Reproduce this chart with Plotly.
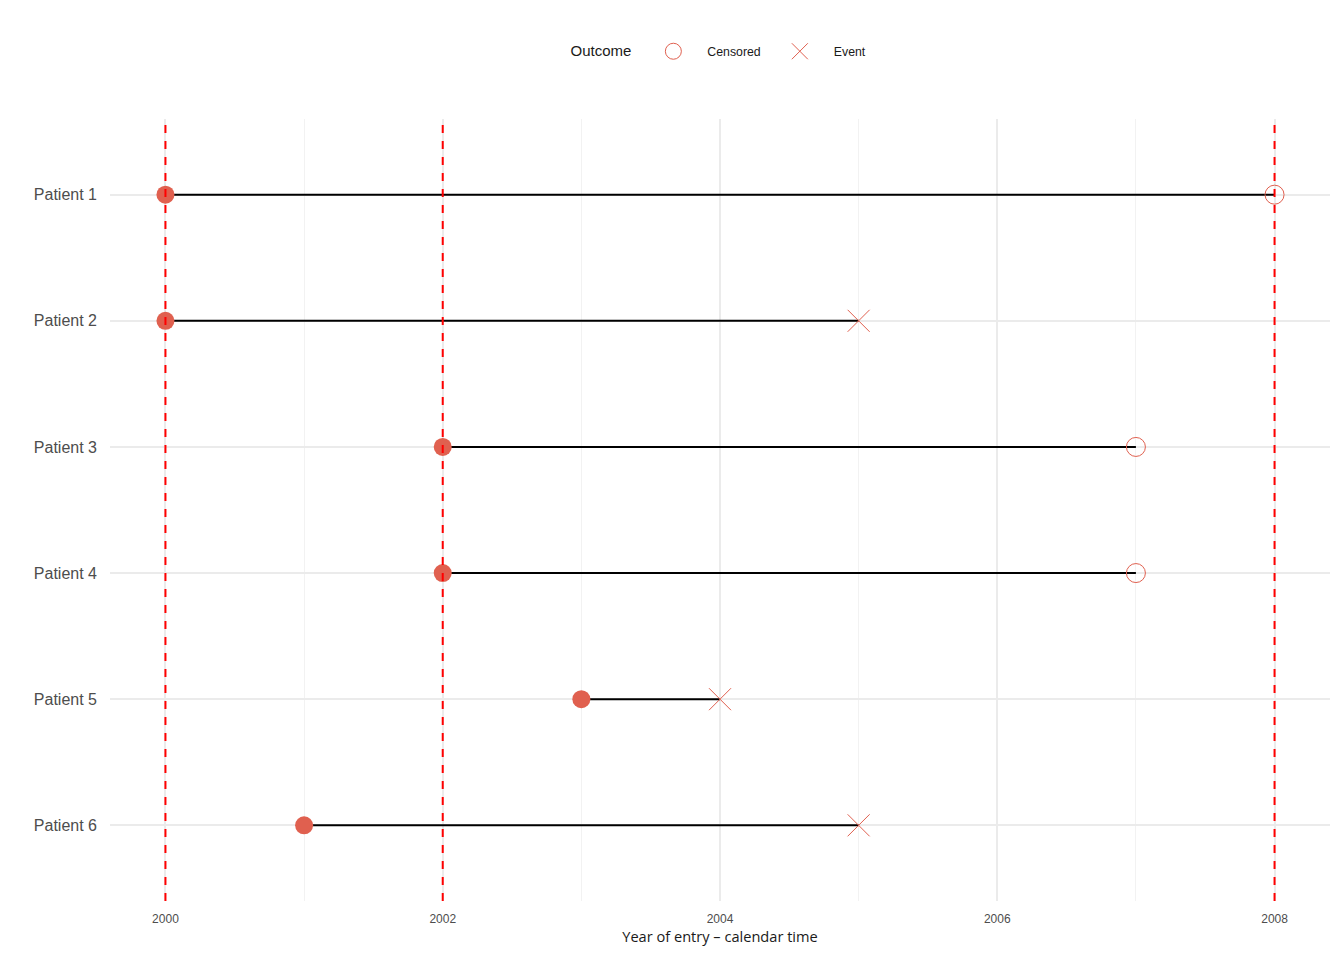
import plotly.graph_objects as go

patients = ["Patient 1", "Patient 2", "Patient 3", "Patient 4", "Patient 5", "Patient 6"]
entry_year = [2000, 2000, 2002, 2002, 2003, 2001]
exit_year = [2008, 2005, 2007, 2007, 2004, 2005]
outcome = ["Censored", "Event", "Censored", "Censored", "Event", "Event"]
cutoff_years = [2000, 2002, 2008]
x_ticks = [2000, 2002, 2004, 2006, 2008]

PT_COLOR = "#E0604F"

fig = go.Figure()

# dashed vertical reference lines
for yr in cutoff_years:
    fig.add_trace(go.Scatter(
        x=[yr, yr], y=[0, 1], xaxis="x", yaxis="y2", mode="lines",
        line=dict(color="#FF0000", width=2, dash="8px,8px"),
        showlegend=False, hoverinfo="skip"))

# follow-up segments
seg_x, seg_y = [], []
for p, s, e in zip(patients, entry_year, exit_year):
    seg_x += [s, e, None]
    seg_y += [p, p, None]
fig.add_trace(go.Scatter(x=seg_x, y=seg_y, mode="lines",
                         line=dict(color="black", width=2),
                         showlegend=False, hoverinfo="skip"))

# entry points
fig.add_trace(go.Scatter(x=entry_year, y=patients, mode="markers",
                         marker=dict(color=PT_COLOR, size=18, symbol="circle",
                                     line=dict(width=0)),
                         showlegend=False))

# outcome markers
for oc, sym, sz in [("Censored", "circle-open", 19), ("Event", "x-thin-open", 22)]:
    xs = [e for e, o in zip(exit_year, outcome) if o == oc]
    ys = [p for p, o in zip(patients, outcome) if o == oc]
    fig.add_trace(go.Scatter(x=xs, y=ys, mode="markers", name=oc,
                             marker=dict(symbol=sym, size=sz, color=PT_COLOR,
                                         line=dict(color=PT_COLOR, width=1))))

fig.update_layout(
    width=1336, height=952,
    margin=dict(l=102, r=14, t=111, b=59),
    plot_bgcolor="white", paper_bgcolor="white",
    font=dict(family="Liberation Sans, Arial, sans-serif", color="#1a1a1a"),
    legend=dict(orientation="h", x=0.5, xanchor="center", y=1.086, yanchor="middle",
                title=dict(text="Outcome", font=dict(size=15, color="#1a1a1a")),
                font=dict(size=12.3, color="#1a1a1a"),
                itemwidth=58),
    xaxis=dict(range=[1999.6, 2008.4], tickvals=x_ticks, ticktext=[str(t) for t in x_ticks],
               showgrid=True, gridcolor="#EBEBEB", gridwidth=1.5,
               minor=dict(dtick=1, tick0=2001, showgrid=True, gridcolor="#F2F2F2", gridwidth=1),
               zeroline=False, showline=False, ticks="", ticklabelstandoff=9,
               tickfont=dict(size=12, color="#4d4d4d"),
               title=dict(text="Year of entry – calendar time", standoff=5,
                          font=dict(family="Open Sans, sans-serif", size=14.6, color="#1a1a1a"))),
    yaxis=dict(type="category", categoryorder="array", categoryarray=patients,
               range=[5.6, -0.6], showgrid=True, gridcolor="#EBEBEB", gridwidth=1.5,
               zeroline=False, showline=False, ticks="", ticklabelstandoff=12,
               tickfont=dict(size=16, color="#4d4d4d")),
    yaxis2=dict(range=[0, 1], overlaying="y", visible=False, showgrid=False),
)

fig.write_html("out.html")
